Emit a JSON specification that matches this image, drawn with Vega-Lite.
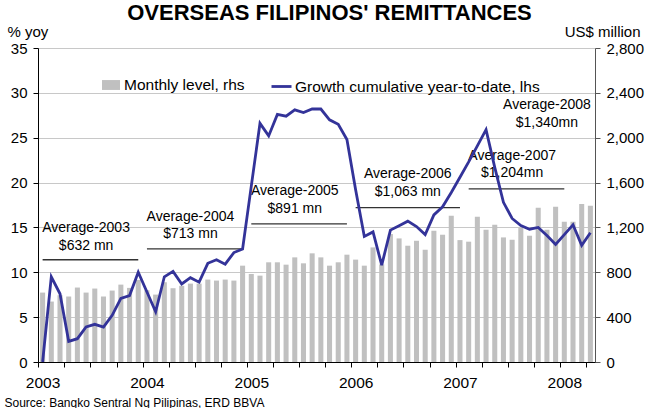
{
  "$schema": "https://vega.github.io/schema/vega-lite/v6.json",
  "width": 557,
  "height": 314,
  "autosize": {"type": "none"},
  "padding": {"left": 38, "top": 48, "right": 53, "bottom": 46},
  "background": "white",
  "config": {"view": {"stroke": null}, "font": "Liberation Sans"},
  "title": {"text": "OVERSEAS FILIPINOS' REMITTANCES", "fontSize": 22, "fontWeight": "bold", "color": "black", "anchor": "middle", "frame": "group", "offset": -1, "dx": 13},
  "datasets": {
    "monthly": [
      {"month": "2003-01", "level": 619, "growth": 0},
      {"month": "2003-02", "level": 539, "growth": 9.5},
      {"month": "2003-03", "level": 595, "growth": 7.6},
      {"month": "2003-04", "level": 584, "growth": 2.3},
      {"month": "2003-05", "level": 664, "growth": 2.6},
      {"month": "2003-06", "level": 619, "growth": 3.9},
      {"month": "2003-07", "level": 655, "growth": 4.2},
      {"month": "2003-08", "level": 584, "growth": 3.9},
      {"month": "2003-09", "level": 637, "growth": 5.2},
      {"month": "2003-10", "level": 690, "growth": 7.1},
      {"month": "2003-11", "level": 661, "growth": 7.4},
      {"month": "2003-12", "level": 732, "growth": 10.0},
      {"month": "2004-01", "level": 640, "growth": 7.8},
      {"month": "2004-02", "level": 601, "growth": 5.6},
      {"month": "2004-03", "level": 711, "growth": 9.5},
      {"month": "2004-04", "level": 658, "growth": 10.1},
      {"month": "2004-05", "level": 679, "growth": 8.7},
      {"month": "2004-06", "level": 699, "growth": 9.4},
      {"month": "2004-07", "level": 699, "growth": 8.9},
      {"month": "2004-08", "level": 735, "growth": 11.0},
      {"month": "2004-09", "level": 726, "growth": 11.4},
      {"month": "2004-10", "level": 735, "growth": 10.9},
      {"month": "2004-11", "level": 726, "growth": 12.2},
      {"month": "2004-12", "level": 859, "growth": 12.6},
      {"month": "2005-01", "level": 785, "growth": 19.6},
      {"month": "2005-02", "level": 770, "growth": 26.6},
      {"month": "2005-03", "level": 889, "growth": 25.2},
      {"month": "2005-04", "level": 889, "growth": 27.6},
      {"month": "2005-05", "level": 868, "growth": 27.4},
      {"month": "2005-06", "level": 933, "growth": 28.1},
      {"month": "2005-07", "level": 880, "growth": 27.8},
      {"month": "2005-08", "level": 969, "growth": 28.2},
      {"month": "2005-09", "level": 933, "growth": 28.2},
      {"month": "2005-10", "level": 859, "growth": 27.0},
      {"month": "2005-11", "level": 889, "growth": 26.5},
      {"month": "2005-12", "level": 957, "growth": 24.8},
      {"month": "2006-01", "level": 913, "growth": 19.2},
      {"month": "2006-02", "level": 859, "growth": 14.0},
      {"month": "2006-03", "level": 1022, "growth": 14.5},
      {"month": "2006-04", "level": 870, "growth": 10.8},
      {"month": "2006-05", "level": 1141, "growth": 14.7},
      {"month": "2006-06", "level": 1102, "growth": 15.2},
      {"month": "2006-07", "level": 1037, "growth": 15.7},
      {"month": "2006-08", "level": 1081, "growth": 15.1},
      {"month": "2006-09", "level": 1001, "growth": 14.2},
      {"month": "2006-10", "level": 1170, "growth": 16.4},
      {"month": "2006-11", "level": 1135, "growth": 17.3},
      {"month": "2006-12", "level": 1304, "growth": 18.9},
      {"month": "2007-01", "level": 1087, "growth": 20.6},
      {"month": "2007-02", "level": 1073, "growth": 22.3},
      {"month": "2007-03", "level": 1295, "growth": 24.1},
      {"month": "2007-04", "level": 1179, "growth": 25.9},
      {"month": "2007-05", "level": 1224, "growth": 21.7},
      {"month": "2007-06", "level": 1111, "growth": 17.8},
      {"month": "2007-07", "level": 1090, "growth": 16.0},
      {"month": "2007-08", "level": 1194, "growth": 15.2},
      {"month": "2007-09", "level": 1126, "growth": 14.8},
      {"month": "2007-10", "level": 1375, "growth": 15.0},
      {"month": "2007-11", "level": 1179, "growth": 14.1},
      {"month": "2007-12", "level": 1384, "growth": 13.1},
      {"month": "2008-01", "level": 1250, "growth": 14.2},
      {"month": "2008-02", "level": 1250, "growth": 15.3},
      {"month": "2008-03", "level": 1410, "growth": 13.0},
      {"month": "2008-04", "level": 1393, "growth": 14.4}
    ],
    "rules": [
      {"start": "2003-01", "end": "2003-12", "y": 11.4},
      {"start": "2004-01", "end": "2004-12", "y": 12.6},
      {"start": "2005-01", "end": "2005-12", "y": 15.4},
      {"start": "2006-01", "end": "2007-01", "y": 17.2},
      {"start": "2007-02", "end": "2008-01", "y": 19.3}
    ],
    "notes": [
      {"month": "2003-06", "y": 14.9, "label": "Average-2003"},
      {"month": "2003-06", "y": 12.9, "label": "$632 mn"},
      {"month": "2004-06", "y": 16.2, "label": "Average-2004"},
      {"month": "2004-06", "y": 14.3, "label": "$713 mn"},
      {"month": "2005-06", "y": 19.1, "label": "Average-2005"},
      {"month": "2005-06", "y": 17.1, "label": "$891 mn"},
      {"month": "2006-07", "y": 21.0, "label": "Average-2006"},
      {"month": "2006-07", "y": 19.0, "label": "$1,063 mn"},
      {"month": "2007-07", "y": 23.0, "label": "Average-2007"},
      {"month": "2007-07", "y": 21.1, "label": "$1,204mn"},
      {"month": "2007-11", "y": 28.6, "label": "Average-2008"},
      {"month": "2007-11", "y": 26.6, "label": "$1,340mn"}
    ]
  },
  "layer": [
    {
      "data": {"name": "monthly"},
      "mark": {"type": "bar"},
      "encoding": {
        "x": {
          "field": "month", "type": "ordinal",
          "title": "Source: Bangko Sentral Ng Pilipinas, ERD BBVA",
          "scale": {"paddingInner": 0.42, "paddingOuter": 0.24},
          "axis": {
            "values": ["2003-01","2003-04","2003-07","2003-10","2004-01","2004-04","2004-07","2004-10","2005-01","2005-04","2005-07","2005-10","2006-01","2006-04","2006-07","2006-10","2007-01","2007-04","2007-07","2007-10","2008-01","2008-04"],
            "labelExpr": "slice(datum.label, 5, 7) == '01' ? slice(datum.label, 0, 4) : ''",
            "labelAngle": 0, "labelOverlap": false,
            "tickOffset": -4.3475, "labelOffset": 4.3475,
            "tickSize": 5, "tickColor": "black", "domainColor": "black",
            "labelFontSize": 15.5, "labelColor": "black", "labelPadding": 8,
            "titleFontSize": 12, "titleFontWeight": "normal", "titleColor": "black",
            "titleX": -34, "titleY": 44, "titleAlign": "left", "titleBaseline": "alphabetic",
            "zindex": 1
          }
        },
        "y": {
          "field": "level", "type": "quantitative",
          "title": "US$ million",
          "scale": {"domain": [0, 2800], "nice": false},
          "axis": {
            "orient": "right", "values": [0,400,800,1200,1600,2000,2400,2800],
            "labelExpr": "format(datum.value, ',')",
            "grid": false, "tickSize": 5, "tickColor": "#555555", "domainColor": "#555555",
            "labelFontSize": 15, "labelColor": "black", "labelPadding": 6,
            "titleAngle": 0, "titleAlign": "right", "titleBaseline": "alphabetic",
            "titleX": 45, "titleY": -12, "titleFontSize": 15, "titleFontWeight": "normal", "titleColor": "black"
          }
        },
        "color": {
          "datum": "Monthly level, rhs", "type": "nominal",
          "scale": {"domain": ["Monthly level, rhs"], "range": ["#c0c0c0"]},
          "legend": {
            "orient": "none", "legendX": 64, "legendY": 28, "title": null, "padding": 0,
            "symbolType": "M-1,-0.55H1V0.55H-1Z", "symbolSize": 324, "symbolStrokeWidth": 0,
            "labelFontSize": 15.5, "labelColor": "black", "labelOffset": 4, "labelLimit": 400
          }
        }
      }
    },
    {
      "layer": [
        {
          "data": {"name": "rules"},
          "mark": {"type": "rule", "color": "#333333", "strokeWidth": 1.3},
          "encoding": {
            "x": {"field": "start", "type": "ordinal", "title": "Source: Bangko Sentral Ng Pilipinas, ERD BBVA"},
            "x2": {"field": "end"},
            "y": {"field": "y", "type": "quantitative", "title": "% yoy"}
          }
        },
        {
          "data": {"name": "notes"},
          "mark": {"type": "text", "fontSize": 14, "color": "black", "baseline": "middle", "align": "center"},
          "encoding": {
            "x": {"field": "month", "type": "ordinal", "title": "Source: Bangko Sentral Ng Pilipinas, ERD BBVA"},
            "y": {"field": "y", "type": "quantitative", "title": "% yoy"},
            "text": {"field": "label"}
          }
        },
        {
          "data": {"name": "monthly"},
          "mark": {"type": "line", "strokeWidth": 2.8},
          "encoding": {
            "x": {"field": "month", "type": "ordinal", "title": "Source: Bangko Sentral Ng Pilipinas, ERD BBVA"},
            "y": {
              "field": "growth", "type": "quantitative", "title": "% yoy",
              "scale": {"domain": [0, 35], "nice": false},
              "axis": {
                "orient": "left", "values": [0,5,10,15,20,25,30,35],
                "labelExpr": "format(datum.value, 'd')",
                "grid": true, "gridColor": "#c8c8c8", "gridWidth": 1,
                "tickSize": 5, "tickColor": "black", "domainColor": "black",
                "labelFontSize": 15, "labelColor": "black", "labelPadding": 6,
                "titleAngle": 0, "titleAlign": "left", "titleBaseline": "alphabetic",
                "titleX": -31, "titleY": -12, "titleFontSize": 15, "titleFontWeight": "normal", "titleColor": "black",
                "zindex": 0,
                "encode": {"grid": {"update": {"strokeDash": {"signal": "datum.value === 30 ? [51, 464, 300] : [1, 0]"}}}}
              }
            },
            "stroke": {
              "datum": "Growth cumulative year-to-date, lhs", "type": "nominal",
              "scale": {"domain": ["Growth cumulative year-to-date, lhs"], "range": ["#333399"]},
              "legend": {
                "orient": "none", "legendX": 232, "legendY": 27, "title": null, "padding": 0,
                "symbolType": "stroke", "symbolSize": 400, "symbolStrokeWidth": 2.8,
                "labelFontSize": 15.5, "labelColor": "black", "labelOffset": 2, "labelLimit": 400
              }
            }
          }
        }
      ]
    }
  ],
  "resolve": {"scale": {"y": "independent"}}
}
